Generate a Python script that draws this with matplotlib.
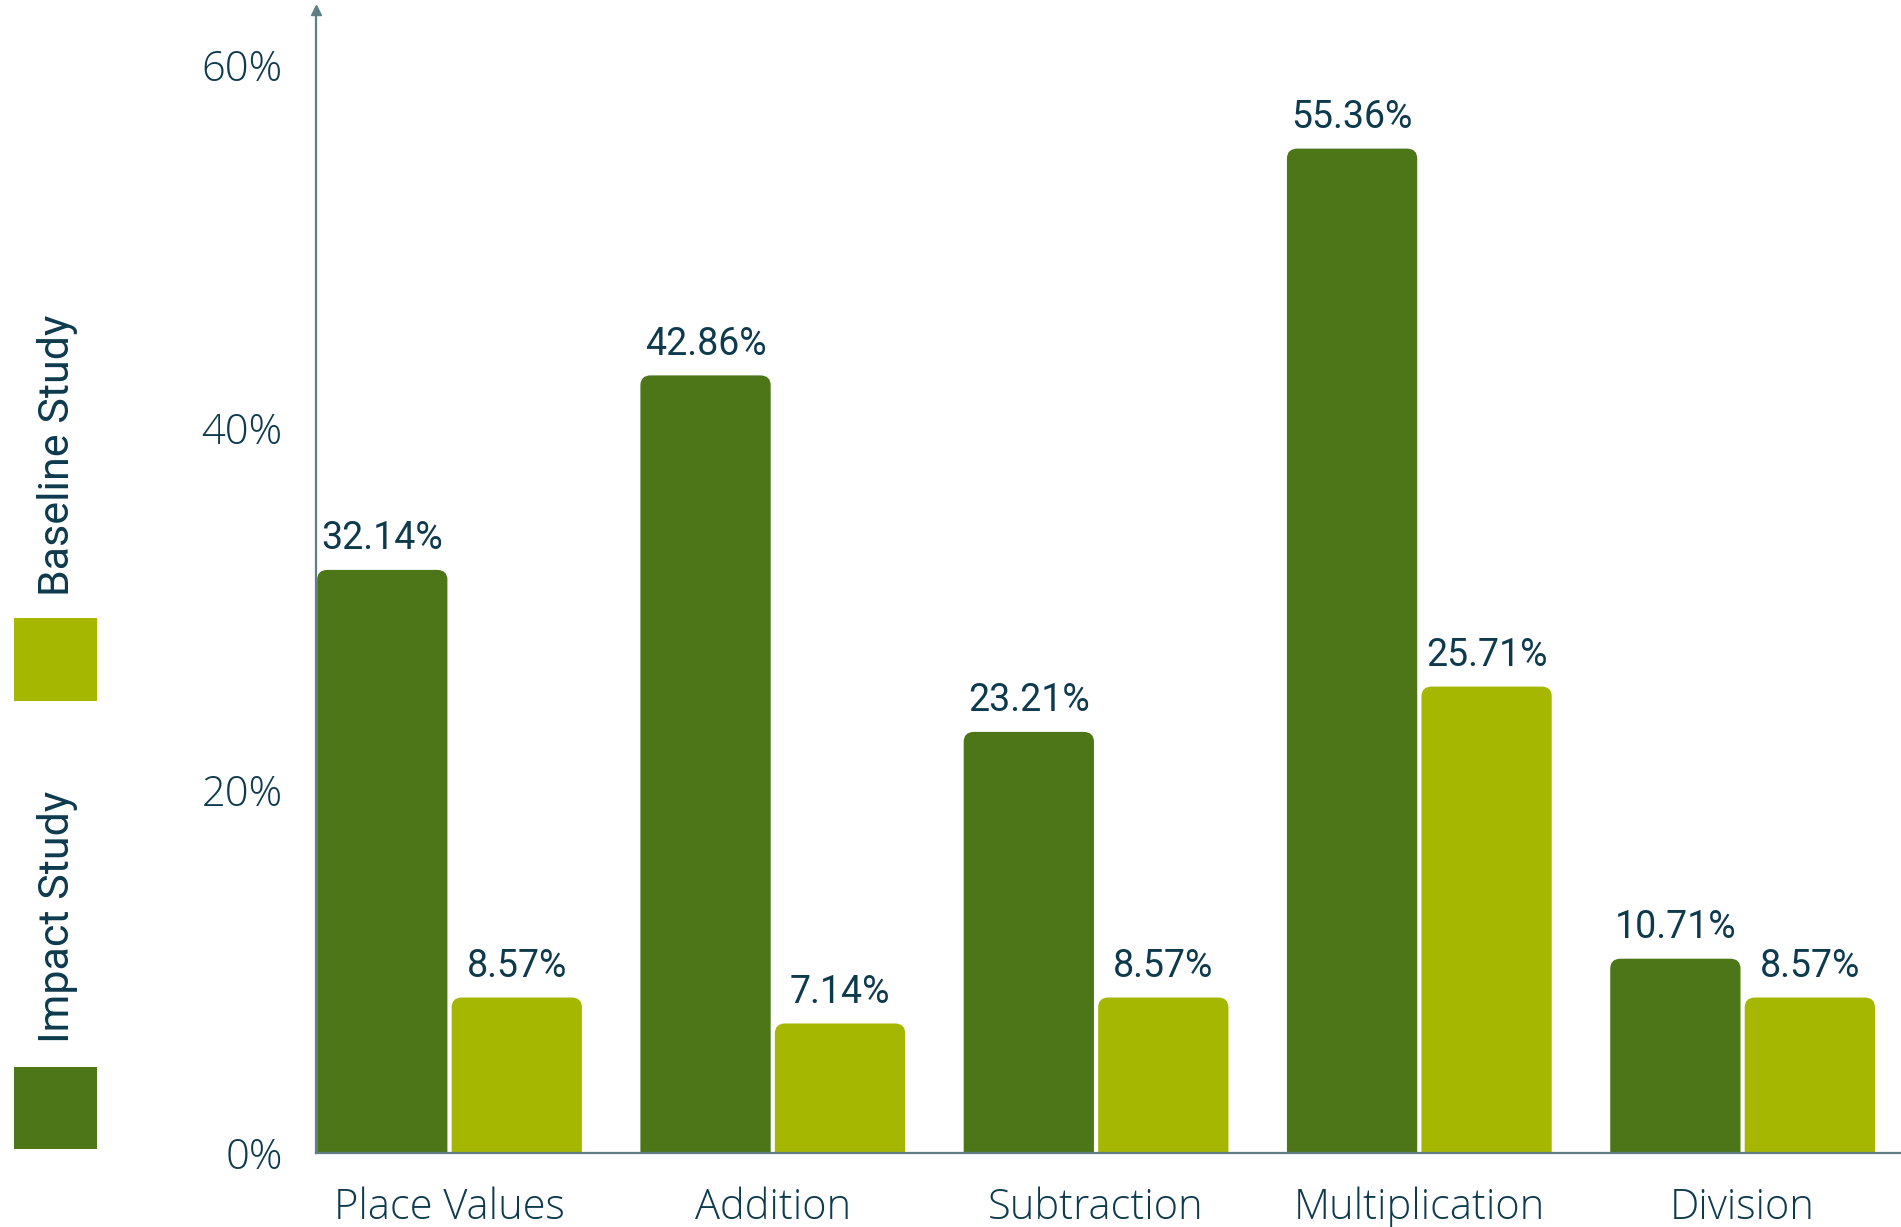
import numpy as np
import matplotlib
matplotlib.use("Agg")
import matplotlib.pyplot as plt
from matplotlib.patches import FancyBboxPatch, Rectangle

# Data
categories = ["Place Values", "Addition", "Subtraction", "Multiplication", "Division"]
impact = [32.14, 42.86, 23.21, 55.36, 10.71]
baseline = [8.57, 7.14, 8.57, 25.71, 8.57]
series_names = ["Impact Study", "Baseline Study"]
yticks = [0, 20, 40, 60]

DARK = "#4d7619"
LIGHT = "#a5b700"
TEXT = "#0e3a4e"
AXIS = "#5e7f85"

fig = plt.figure(figsize=(19.01, 12.27), dpi=100)
ax = fig.add_axes([316 / 1901, 74 / 1227, 1 - 316 / 1901, (1153 - 10) / 1227])

x = np.arange(len(categories))
w = 0.403
off = 0.208
b1 = ax.bar(x - off, impact, w, color=DARK)
b2 = ax.bar(x + off, baseline, w, color=LIGHT)

# rounded tops: swap each bar for a rounded box that starts below zero
r = 0.032
asp = 0.55 / r
for cont in (b1, b2):
    for rect in cont:
        rect.set_visible(False)
        p = FancyBboxPatch((rect.get_x(), -2), rect.get_width(), rect.get_height() + 2,
                           boxstyle=f"round,pad=0,rounding_size={r}",
                           mutation_aspect=asp, fc=rect.get_facecolor(), ec="none")
        ax.add_patch(p)
    ax.bar_label(cont, labels=[f"{v:.2f}%" for v in cont.datavalues], padding=9,
                 fontsize=27, color=TEXT, family="Roboto")

ax.set_xlim(-0.413, 4.49)
ax.set_ylim(0, 63)
ax.set_yticks(yticks)
ax.set_yticklabels([f"{t}%" for t in yticks])
ax.set_xticks(x)
ax.set_xticklabels(categories)
ax.tick_params(length=0, pad=24, labelsize=30, labelcolor=TEXT)
for lab in ax.get_xticklabels() + ax.get_yticklabels():
    lab.set_family("Open Sans")
    lab.set_fontweight("light")

for s in ("top", "right"):
    ax.spines[s].set_visible(False)
for s in ("left", "bottom"):
    ax.spines[s].set_color(AXIS)
    ax.spines[s].set_linewidth(1.6)
ax.plot([0], [1], marker="^", ms=7, color=AXIS, transform=ax.transAxes, clip_on=False)

# legend on the left, rotated labels above colour squares
fig.add_artist(Rectangle((14 / 1901, 1 - 1149 / 1227), 83 / 1901, 82 / 1227,
                         transform=fig.transFigure, fc=DARK, ec="none"))
fig.add_artist(Rectangle((14 / 1901, 1 - 701 / 1227), 83 / 1901, 83 / 1227,
                         transform=fig.transFigure, fc=LIGHT, ec="none"))
fig.text(57 / 1901, 1 - 1043 / 1227, series_names[0], rotation=90, ha="center", va="bottom",
         fontsize=31, color=TEXT, family="Roboto")
fig.text(57 / 1901, 1 - 596 / 1227, series_names[1], rotation=90, ha="center", va="bottom",
         fontsize=31, color=TEXT, family="Roboto")

fig.savefig("out.png", dpi=100)
